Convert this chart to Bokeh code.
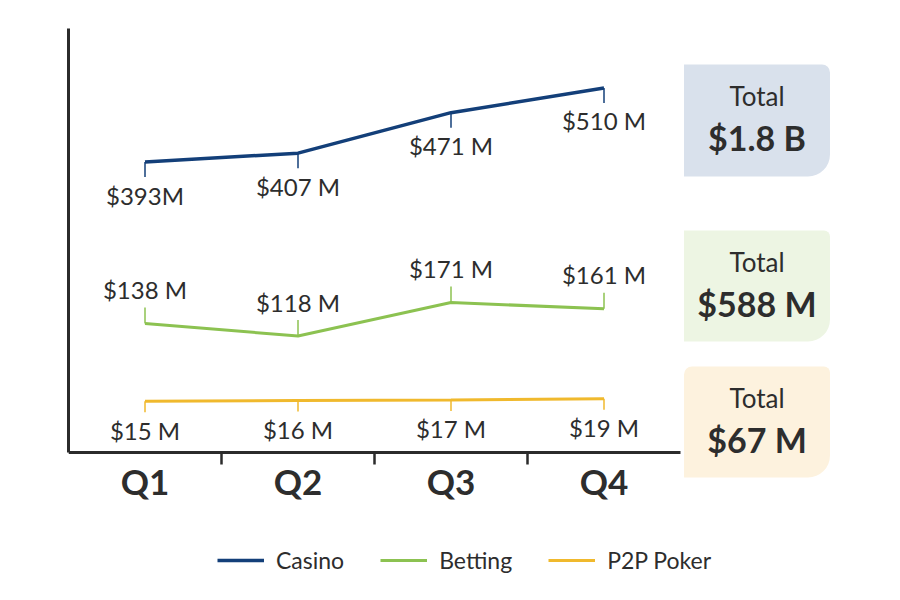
import math
from bokeh.plotting import figure
from bokeh.layouts import column
from bokeh.models import Range1d, FixedTicker, Legend, LegendItem
from bokeh.core.properties import value
from bokeh.embed import file_html
from bokeh.resources import INLINE

# ---------------- data ----------------
quarters = ["Q1", "Q2", "Q3", "Q4"]
casino = [393, 407, 471, 510]
betting = [138, 118, 171, 161]
poker = [15, 16, 17, 19]
casino_labels = ["$393M", "$407 M", "$471 M", "$510 M"]
betting_labels = ["$138 M", "$118 M", "$171 M", "$161 M"]
poker_labels = ["$15 M", "$16 M", "$17 M", "$19 M"]
series_names = ["Casino", "Betting", "P2P Poker"]
totals = ["$1.8 B", "$588 M", "$67 M"]

# ---------------- styles / layout ----------------
FONT = "Lato"
TXT = "#2d2d2d"
AX = "#2b2b2b"
colors = ["#133f79", "#8cc251", "#f0b92d"]
box_fills = ["#d9e1ec", "#edf5e3", "#fdf2de"]
radii = [(0, 8, 22, 0), (0, 6, 22, 0), (8, 6, 22, 0)]

W, H = 892, 592
LEFT, TOP, AXIS_Y = 68, 28, 452          # pixel layout of the plotting area
Y0, Y1 = -66, 604                        # value range between AXIS_Y and TOP
UNIT = (AXIS_Y - TOP) / (Y1 - Y0)        # pixels per $M
X_UNIT = 153                             # pixels per quarter


def px_to_val(py):
    return Y0 + (AXIS_Y - py) / UNIT


# total boxes, pixel rows (layout only)
box_top_px = [64, 230, 366]
box_bot_px = [176, 341, 477]

n = len(quarters)
xs = [i + 0.5 for i in range(n)]
box_cx = n + 0.5
box_hw = 0.477

p = figure(width=W, height=H, x_range=Range1d(0, (W - LEFT) / X_UNIT),
           y_range=Range1d(px_to_val(H), Y1), output_backend="svg",
           toolbar_location=None, min_border_left=LEFT, min_border_right=0,
           min_border_top=TOP, min_border_bottom=0)
p.outline_line_color = None
p.grid.visible = False
p.background_fill_color = "white"
p.border_fill_color = "white"

# x axis (fixed at the base of the chart)
xa = p.xaxis[0]
xa.fixed_location = Y0
xa.bounds = (0, n)
xa.ticker = FixedTicker(ticks=xs, minor_ticks=[1, 2, 3])
xa.major_label_overrides = {x: q for x, q in zip(xs, quarters)}
xa.major_tick_line_color = None
xa.major_tick_out = 0
xa.major_tick_in = 0
xa.minor_tick_out = 12
xa.minor_tick_in = 0
xa.minor_tick_line_width = 2.5
xa.minor_tick_line_color = AX
xa.axis_line_width = 3
xa.axis_line_color = AX
xa.major_label_text_font = FONT
xa.major_label_text_font_style = "bold"
xa.major_label_text_font_size = "35px"
xa.major_label_text_color = TXT
xa.major_label_standoff = -5

ya = p.yaxis[0]
ya.bounds = (Y0, Y1)
ya.ticker = FixedTicker(ticks=[])
ya.axis_line_width = 3
ya.axis_line_color = AX
ya.major_tick_line_color = None
ya.minor_tick_line_color = None
ya.major_label_text_font_size = "0px"

# total boxes
for t, b, f, rad, tot in zip(box_top_px, box_bot_px, box_fills, radii, totals):
    top_v = px_to_val(t)
    p.quad(left=[box_cx - box_hw], right=[box_cx + box_hw], top=[top_v],
           bottom=[px_to_val(b)], fill_color=f, line_color=None,
           border_radius=rad)
    p.text(x=[box_cx], y=[top_v], text=["Total"], y_offset=31,
           text_align="center", text_baseline="middle", text_font=value(FONT),
           text_font_size="26px", text_color=TXT)
    p.text(x=[box_cx], y=[top_v], text=[tot], y_offset=73,
           text_align="center", text_baseline="middle", text_font=value(FONT),
           text_font_style="bold", text_font_size="34px", text_color=TXT)

series = [casino, betting, poker]
labels = [casino_labels, betting_labels, poker_labels]
tick_dir = [-1, 1, -1]   # down, up, down
tick_len = [15, 16, 11]
lab_off = [33, -34, 29]
widths = [3.5, 3, 3]

items = []
for vals, labs, c, d, tl, lo, w, name in zip(series, labels, colors, tick_dir,
                                             tick_len, lab_off, widths, series_names):
    r = p.line(xs, vals, line_color=c, line_width=w)
    p.ray(x=xs, y=vals, length=tl, length_units="screen",
          angle=d * math.pi / 2, line_color=c, line_width=1.5)
    p.text(x=xs, y=vals, text=labs, y_offset=lo, text_align="center",
           text_baseline="middle", text_font=value(FONT),
           text_font_size="24px", text_color=TXT)
    items.append(LegendItem(label=name, renderers=[r]))

legend = Legend(items=items, orientation="horizontal", location=(149, 18),
                glyph_width=47, glyph_height=22, label_standoff=12, spacing=36,
                label_text_font=FONT, label_text_font_size="23px",
                label_text_color=TXT, border_line_color=None,
                background_fill_alpha=0, padding=0, margin=0)
p.add_layout(legend)

open("out.html", "w").write(file_html(column(p), INLINE))
